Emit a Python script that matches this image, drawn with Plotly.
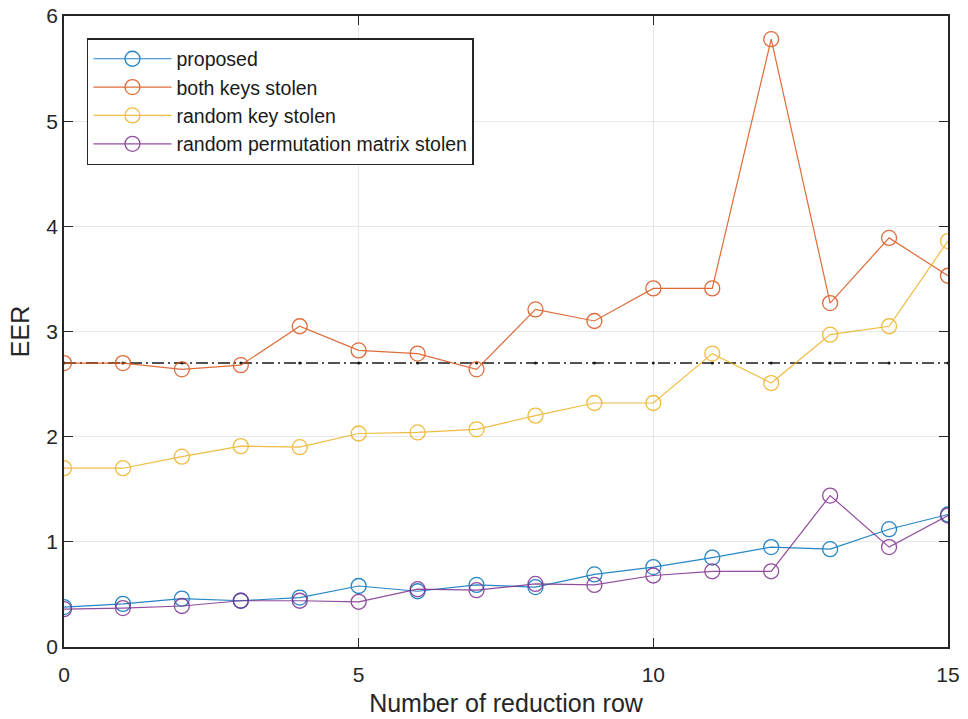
import plotly.graph_objects as go

# Number of reduction rows on the x axis
rows = list(range(16))

# EER values for each scenario
eer_proposed = [0.38, 0.41, 0.46, 0.44, 0.47, 0.58, 0.53, 0.59, 0.57, 0.69, 0.76, 0.85, 0.95, 0.93, 1.12, 1.26]
eer_both_keys = [2.70, 2.70, 2.64, 2.68, 3.05, 2.82, 2.79, 2.64, 3.21, 3.10, 3.41, 3.41, 5.78, 3.27, 3.89, 3.53]
eer_random_key = [1.70, 1.70, 1.81, 1.91, 1.90, 2.03, 2.04, 2.07, 2.20, 2.32, 2.32, 2.79, 2.51, 2.97, 3.05, 3.86]
eer_perm_matrix = [0.36, 0.37, 0.39, 0.44, 0.44, 0.43, 0.55, 0.54, 0.60, 0.59, 0.68, 0.72, 0.72, 1.44, 0.95, 1.25]

# Horizontal reference level
reference_eer = 2.7

series_names = ["proposed", "both keys stolen", "random key stolen",
                "random permutation matrix stolen"]
series_values = [eer_proposed, eer_both_keys, eer_random_key, eer_perm_matrix]
series_colors = ["#0072BD", "#D95319", "#EDB120", "#7E2F8E"]

FONT = "Liberation Sans, Arial, sans-serif"

fig = go.Figure()

# Dash-dot reference line with a small dot at each integer row
fig.add_trace(go.Scatter(
    x=rows, y=[reference_eer] * len(rows), mode="lines+markers",
    line=dict(color="#1a1a1a", width=1.5, dash="12px,4px,2px,4px"),
    marker=dict(symbol="circle", size=3, color="#1a1a1a"),
    showlegend=False, hoverinfo="skip",
))

for name, vals, col in zip(series_names, series_values, series_colors):
    fig.add_trace(go.Scatter(
        x=rows, y=vals, mode="lines+markers", name=name,
        line=dict(color=col, width=1.2),
        marker=dict(symbol="circle-open", size=15, color=col, line=dict(width=1.3)),
        opacity=0.85,
    ))

axis_common = dict(
    showline=True, linecolor="#262626", linewidth=1.5, mirror="allticks",
    ticks="inside", ticklen=9, tickwidth=1.2, tickcolor="#262626",
    showgrid=True, gridcolor="#e8e8e8", gridwidth=1, zeroline=False,
    automargin=False,
    tickfont=dict(family=FONT, size=21, color="#262626"),
    title_font=dict(family=FONT, size=25, color="#262626"),
)

fig.update_xaxes(
    range=[0, 15], tickvals=[0, 5, 10, 15], title_text="Number of reduction row",
    title_standoff=10, ticklabelstandoff=8, **axis_common,
)
fig.update_yaxes(
    range=[0, 6], tickvals=[0, 1, 2, 3, 4, 5, 6], title_text="EER",
    title_standoff=10, **axis_common,
)

fig.update_layout(
    width=968, height=719,
    margin=dict(l=64, r=20, t=16, b=72),
    paper_bgcolor="white", plot_bgcolor="white",
    legend=dict(
        x=0.026, y=0.965, xanchor="left", yanchor="top",
        bgcolor="white", bordercolor="#262626", borderwidth=1.5,
        font=dict(family=FONT, size=19.5, color="#1a1a1a"),
        itemwidth=78, tracegroupgap=0,
    ),
)

fig.write_html("out.html")
